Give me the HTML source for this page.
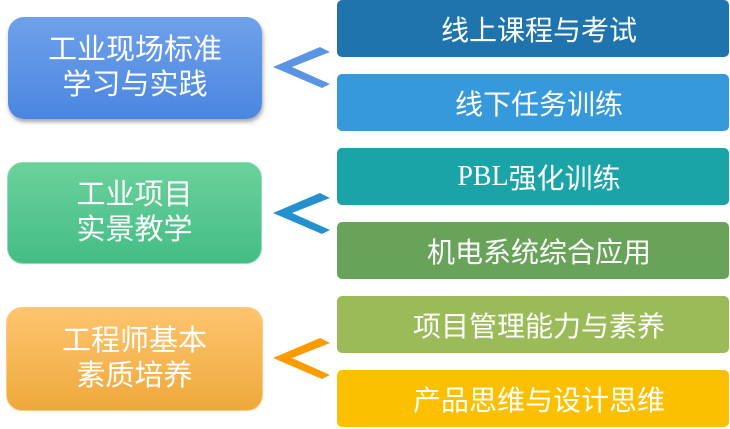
<!DOCTYPE html>
<html><head><meta charset="utf-8"><style>
body{margin:0;width:730px;height:429px;background:#fff;position:relative;overflow:hidden;font-family:"Liberation Sans","Noto Sans CJK SC",sans-serif}
.l{position:absolute;border-radius:16px;color:#fff;font-size:29px;line-height:35px;text-align:center;display:flex;align-items:center;justify-content:center}
.r{position:absolute;left:337px;width:392px;height:57px;border-radius:5px;color:#fff;font-size:28px;display:flex;align-items:center;justify-content:center;padding-left:12px;box-sizing:border-box}
</style></head><body>
<div class="l" style="left:8px;top:17px;width:254px;height:102px;background:linear-gradient(#6fa1ea,#4a86e0);box-shadow:1px 3px 4px rgba(0,0,0,.35)">工业现场标准<br>学习与实践</div>
<div class="l" style="left:7px;top:162px;width:255px;height:102px;background:linear-gradient(#6bd19c,#44bd85);border:1px solid #8fdcb4;box-sizing:border-box">工业项目<br>实景教学</div>
<div class="l" style="left:6px;top:307px;width:257px;height:104px;background:linear-gradient(#fec46e,#eea93c);border:1px solid #fdca80;box-sizing:border-box">工程师基本<br>素质培养</div>
<svg style="position:absolute;left:0;top:0" width="730" height="429">
<polygon points="273,67 320,47 330,52 292,67 330,84 322,88" fill="#5b94e2"/>
<polygon points="273,213 320,193 330,198 292,213 330,230 322,234" fill="#2490d0"/>
<polygon points="273,358 320,338 330,343 292,358 330,375 322,379" fill="#fb9b00"/>
</svg>
<div class="r" style="top:0;background:#2074ae">线上课程与考试</div>
<div class="r" style="top:74px;background:#3599db">线下任务训练</div>
<div class="r" style="top:148px;background:#1ba4a8"><span style="font-family:'Liberation Serif',serif">PBL</span>强化训练</div>
<div class="r" style="top:222px;background:#69a35a">机电系统综合应用</div>
<div class="r" style="top:296px;background:#9bbb58">项目管理能力与素养</div>
<div class="r" style="top:370px;background:#fdc000">产品思维与设计思维</div>
</body></html>
